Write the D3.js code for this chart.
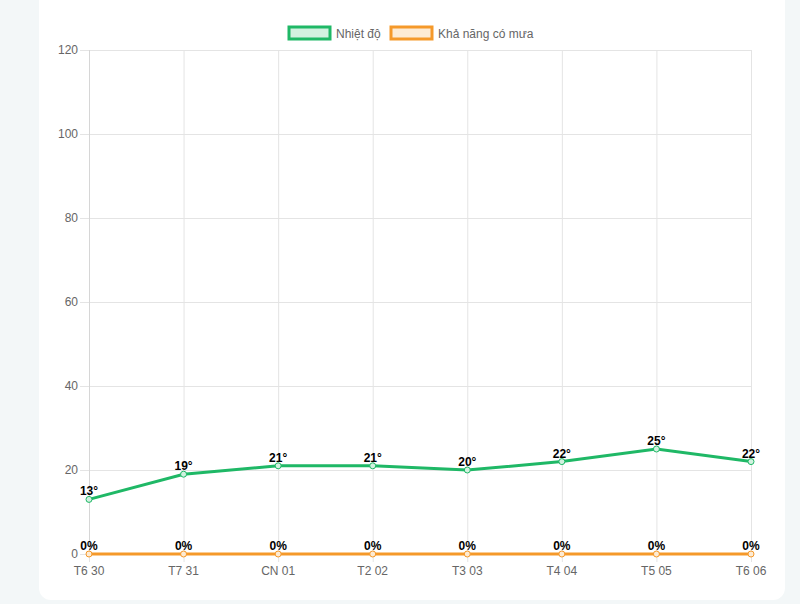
<!DOCTYPE html>
<html>
<head>
<meta charset="utf-8">
<script src="https://cdn.jsdelivr.net/npm/d3@7"></script>
<style>
  body { margin: 0; background: #f3f7f8; font-family: Arial, "Liberation Sans", sans-serif; }
  #card { position: absolute; left: 39px; top: -20px; width: 746px; height: 620px; background: #fff; border-radius: 12px; }
  svg { position: absolute; left: 0; top: 0; }
</style>
</head>
<body>
<div id="card"></div>
<div id="svg"></div>
<script>
var labels = ["T6 30", "T7 31", "CN 01", "T2 02", "T3 03", "T4 04", "T5 05", "T6 06"];
var temps = [13, 19, 21, 21, 20, 22, 25, 22];
var rain = [0, 0, 0, 0, 0, 0, 0, 0];
var yTicks = [0, 20, 40, 60, 80, 100, 120];
var seriesNames = ["Nhiệt độ", "Khả năng có mưa"];

var green = "#1fb866", orange = "#f5992a";
var svgWidth = 800, svgHeight = 604;
var plotLeft = 89, plotRight = 751, plotTop = 50, plotBottom = 554;

var svg = d3.select("#svg").append("svg")
    .attr("width", svgWidth).attr("height", svgHeight);

var x = d3.scalePoint().domain(labels).range([plotLeft, plotRight]);
var y = d3.scaleLinear().domain([0, 120]).range([plotBottom, plotTop]);

//grid
var grid = svg.append("g");
grid.selectAll("line.h").data(yTicks).enter().append("line")
    .attr("x1", plotLeft - 9).attr("x2", plotRight)
    .attr("y1", function(d) { return y(d) + 0.5; }).attr("y2", function(d) { return y(d) + 0.5; })
    .style("stroke", "#e4e4e4").style("stroke-width", 1);
grid.selectAll("line.v").data(labels).enter().append("line")
    .attr("x1", function(d) { return x(d) + 0.5; }).attr("x2", function(d) { return x(d) + 0.5; })
    .attr("y1", plotTop).attr("y2", plotBottom + 8)
    .style("stroke", "#e4e4e4").style("stroke-width", 1);
grid.append("line").attr("x1", plotLeft + 0.5).attr("x2", plotLeft + 0.5).attr("y1", plotTop).attr("y2", plotBottom)
    .style("stroke", "#d6d6d6");

//y labels
svg.append("g").selectAll("text").data(yTicks).enter().append("text")
    .text(function(d) { return d; })
    .attr("x", plotLeft - 11).attr("y", function(d) { return y(d) + 4; })
    .attr("text-anchor", "end").attr("font-size", 12).attr("fill", "#666");

//x labels
svg.append("g").selectAll("text").data(labels).enter().append("text")
    .text(function(d) { return d; })
    .attr("x", function(d) { return x(d); }).attr("y", plotBottom + 21)
    .attr("text-anchor", "middle").attr("font-size", 12).attr("fill", "#666");

function drawSeries(values, colour, fill, suffix) {
    var g = svg.append("g");
    var line = d3.line()
        .x(function(d, i) { return x(labels[i]); })
        .y(function(d) { return y(d); });
    g.append("path").datum(values).attr("d", line)
        .attr("fill", "none").style("stroke", colour).style("stroke-width", 3);
    g.selectAll("circle").data(values).enter().append("circle")
        .attr("cx", function(d, i) { return x(labels[i]); })
        .attr("cy", function(d) { return y(d); })
        .attr("r", 3).attr("fill", fill).style("stroke", colour).style("stroke-width", 1);
    g.selectAll("text").data(values).enter().append("text")
        .text(function(d) { return d + suffix; })
        .attr("x", function(d, i) { return x(labels[i]); })
        .attr("y", function(d) { return y(d) - 4; })
        .attr("text-anchor", "middle").attr("font-size", 12).attr("font-weight", "bold").attr("fill", "#000");
}
drawSeries(rain, orange, "#fdebd4", "%");
drawSeries(temps, green, "#d2f1e0", "°");

//legend
var legend = svg.append("g");
var legendItems = [
    { name: seriesNames[0], x: 289, colour: green, fill: "#d2f1e0" },
    { name: seriesNames[1], x: 391, colour: orange, fill: "#fdebd4" }
];
legendItems.forEach(function(d) {
    legend.append("rect").attr("x", d.x).attr("y", 27).attr("width", 41).attr("height", 12)
        .attr("fill", d.fill).style("stroke", d.colour).style("stroke-width", 3);
    legend.append("text").text(d.name).attr("x", d.x + 47).attr("y", 38)
        .attr("font-size", 12).attr("fill", "#666");
});
</script>
</body>
</html>
